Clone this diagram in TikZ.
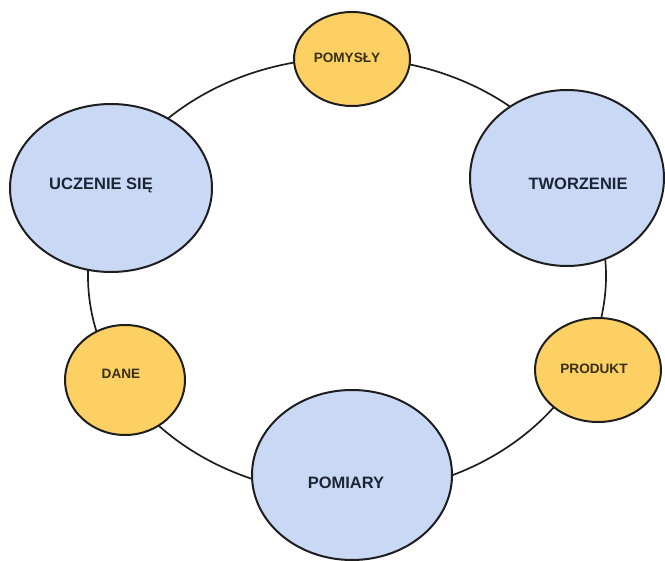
\documentclass[tikz,border=0pt]{standalone}
\usepackage{fontspec}
\setmainfont{Liberation Sans}
\usetikzlibrary{shapes.geometric}
\definecolor{bluefill}{HTML}{C9D9F5}
\definecolor{yellowfill}{HTML}{FCD063}
\definecolor{edgecol}{HTML}{1E1E1E}
\definecolor{bluetext}{HTML}{1C2536}
\definecolor{yellowtext}{HTML}{3A2E12}
\newcommand{\lbl}[3]{\raisebox{#2}[0pt][0pt]{\makebox[0pt]{\hspace*{#1}#3}}}
\tikzset{
  ringshape/.style={ellipse, draw=edgecol, line width=1.7pt, inner sep=0pt},
  bignode/.style={ellipse, draw=edgecol, line width=2pt, fill=bluefill, inner sep=0pt,
    text=bluetext, font=\fontsize{16.5}{18}\selectfont\bfseries},
  smallnode/.style={ellipse, draw=edgecol, line width=2pt, fill=yellowfill, inner sep=0pt,
    text=yellowtext, font=\fontsize{13.6}{15}\selectfont\bfseries},
}
\begin{document}
\begin{tikzpicture}[x=1pt, y=-1pt]
\useasboundingbox (0,0) rectangle (665,561);
\node[ringshape, minimum width=518pt, minimum height=436pt] (cycle) at (347,276) {};
\node[smallnode, minimum width=116pt, minimum height=94pt] (pomysly) at (352,59) {\lbl{-10pt}{-3.9pt}{POMYSŁY}};
\node[bignode, minimum width=202pt, minimum height=168pt] (uczenie) at (111,188) {\lbl{-20pt}{-1.9pt}{UCZENIE SIĘ}};
\node[bignode, minimum width=194pt, minimum height=176pt] (tworzenie) at (567,178) {\lbl{22pt}{-11.9pt}{TWORZENIE}};
\node[smallnode, minimum width=120pt, minimum height=110pt] (dane) at (125,380) {\lbl{-8pt}{1.1pt}{DANE}};
\node[smallnode, minimum width=126pt, minimum height=104pt] (produkt) at (598,370) {\lbl{-8pt}{-3.9pt}{PRODUKT}};
\node[bignode, minimum width=200pt, minimum height=170pt] (pomiary) at (352,475) {\lbl{-12pt}{-13.9pt}{POMIARY}};
\end{tikzpicture}
\end{document}
